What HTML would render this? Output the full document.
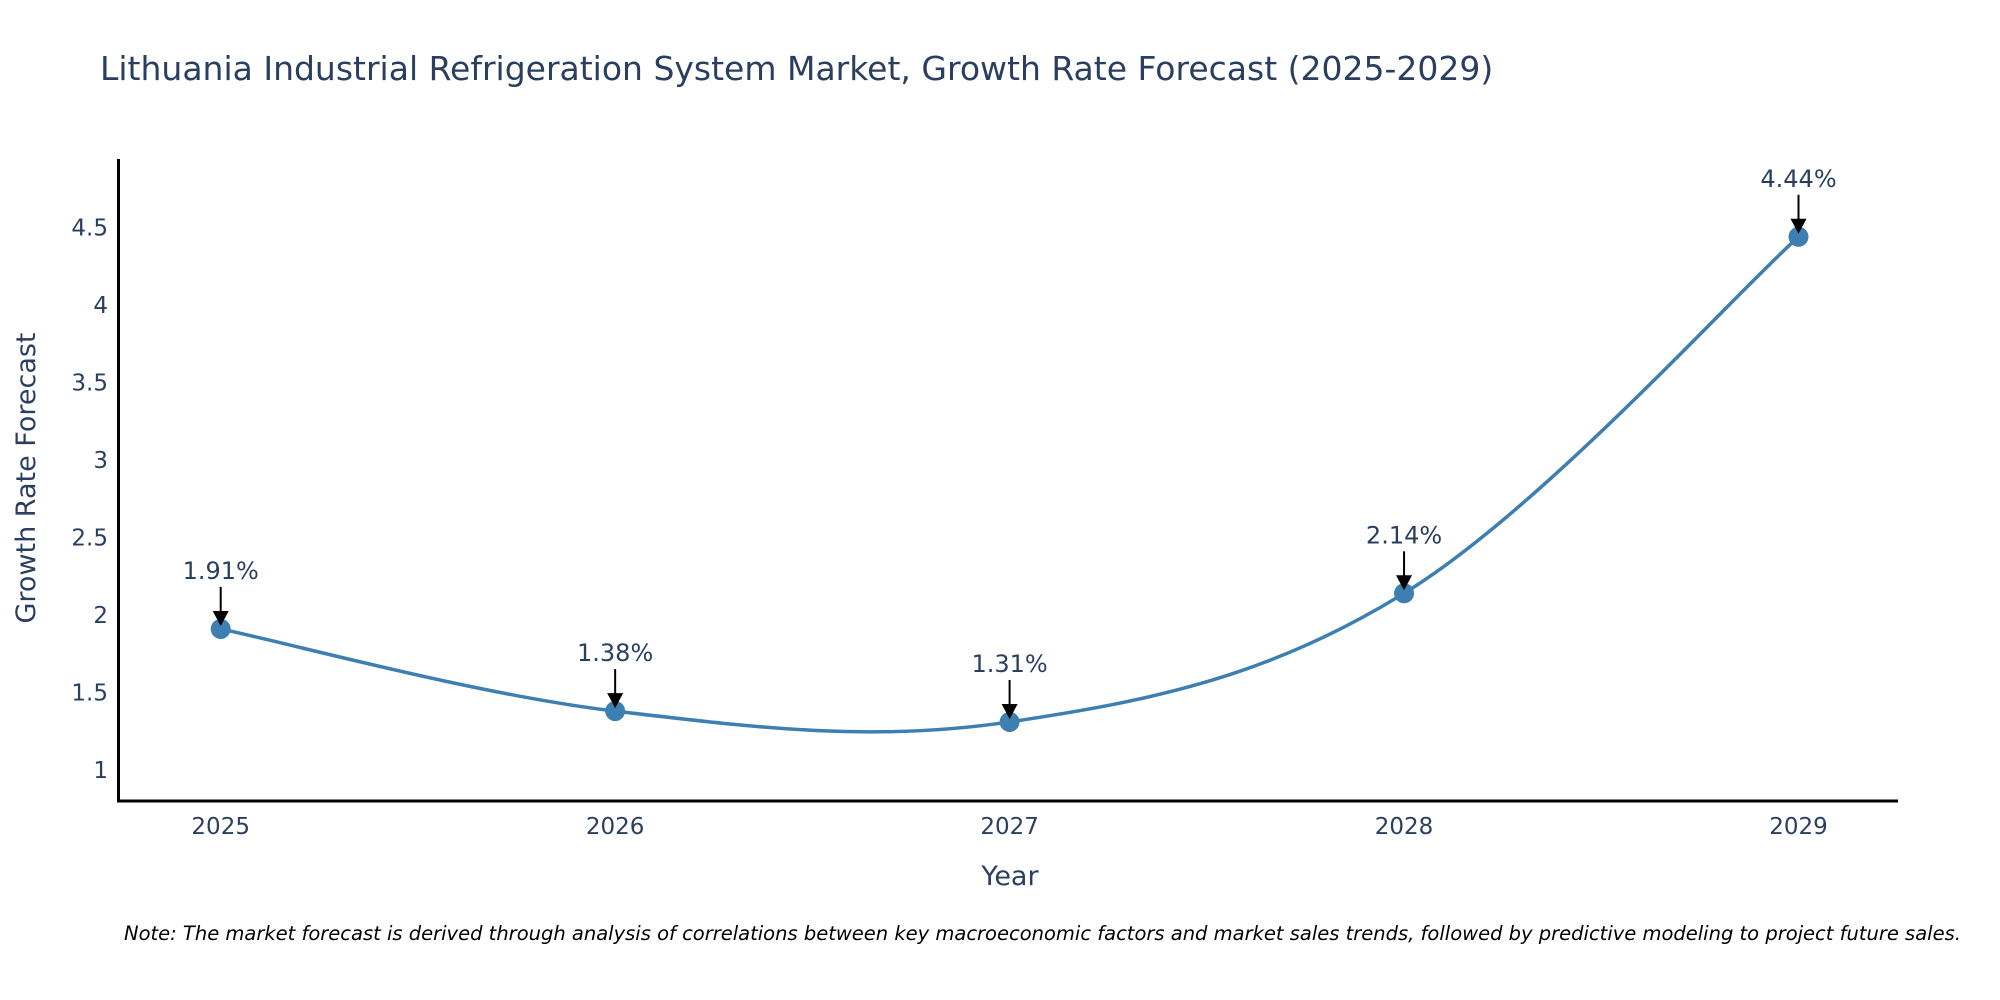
<!DOCTYPE html>
<html><head><meta charset="utf-8">
<style>
body{margin:0;background:#fff;}
svg{display:block;font-family:"DejaVu Sans","Liberation Sans",sans-serif;}
</style></head>
<body>
<svg id="chart" width="2000" height="1000">
<text x="100" y="80" font-size="33" fill="#2a3f5f">Lithuania Industrial Refrigeration System Market, Growth Rate Forecast (2025-2029)</text>
<g id="plot"></g>
<line x1="118.5" y1="159" x2="118.5" y2="802" stroke="#000" stroke-width="3"/>
<line x1="117" y1="801" x2="1898" y2="801" stroke="#000" stroke-width="3"/>
<text x="1010" y="885" font-size="27" fill="#2a3f5f" text-anchor="middle">Year</text>
<text transform="translate(35,478) rotate(-90)" font-size="27" fill="#2a3f5f" text-anchor="middle">Growth Rate Forecast</text>
<text x="124" y="940" font-size="19.5" font-style="italic" fill="#000">Note: The market forecast is derived through analysis of correlations between key macroeconomic factors and market sales trends, followed by predictive modeling to project future sales.</text>
</svg>
<script>
const years = ["2025","2026","2027","2028","2029"];
const values = [1.91, 1.38, 1.31, 2.14, 4.44];
const labels = ["1.91%","1.38%","1.31%","2.14%","4.44%"];
const yTicks = [1,1.5,2,2.5,3,3.5,4,4.5];
const yTickLabels = ["1","1.5","2","2.5","3","3.5","4","4.5"];

const NS="http://www.w3.org/2000/svg";
const g=document.getElementById('plot');
function X(i){return 220.7+i*(1798.5-220.7)/(years.length-1);}
function Y(v){return 770-(v-1)*155;}
function mk(t,a){const e=document.createElementNS(NS,t);for(const k in a)e.setAttribute(k,a[k]);g.appendChild(e);return e;}

yTicks.forEach((v,i)=>{
  const t=mk('text',{x:108,y:Y(v)+8,'font-size':23,fill:'#2a3f5f','text-anchor':'end'});
  t.textContent=yTickLabels[i];
  
  
});
years.forEach((yr,i)=>{
  const t=mk('text',{x:X(i),y:834,'font-size':23,fill:'#2a3f5f','text-anchor':'middle'});
  t.textContent=yr;
  
  
});
const pts=values.map((v,i)=>[X(i),Y(v)]);
let d=`M${pts[0][0]},${pts[0][1]}`;
const s=0.35;
for(let i=0;i<pts.length-1;i++){
  const p0=pts[i-1]||pts[i],p1=pts[i],p2=pts[i+1],p3=pts[i+2]||p2;
  const c1=[p1[0]+(p2[0]-p0[0])*s/2,p1[1]+(p2[1]-p0[1])*s/2];
  const c2=[p2[0]-(p3[0]-p1[0])*s/2,p2[1]-(p3[1]-p1[1])*s/2];
  d+=` C${c1[0]},${c1[1]} ${c2[0]},${c2[1]} ${p2[0]},${p2[1]}`;
}
const line=mk('path',{d:d,fill:'none',stroke:'#3d7fb1','stroke-width':3.5});


pts.forEach((p,i)=>{
  const c=mk('circle',{cx:p[0],cy:p[1],r:10,fill:'#3d7fb1'});
  
  
  const a=mk('line',{x1:p[0],y1:p[1]-42,x2:p[0],y2:p[1]-16,stroke:'#000','stroke-width':2});
  
  
  const h=mk('polygon',{points:`${p[0]-8},${p[1]-18} ${p[0]+8},${p[1]-18} ${p[0]},${p[1]-3}`,fill:'#000'});
  
  
  const t=mk('text',{x:p[0],y:p[1]-50,'font-size':24,fill:'#2a3f5f','text-anchor':'middle'});
  t.textContent=labels[i];
  
  
});
</script>
</body></html>
